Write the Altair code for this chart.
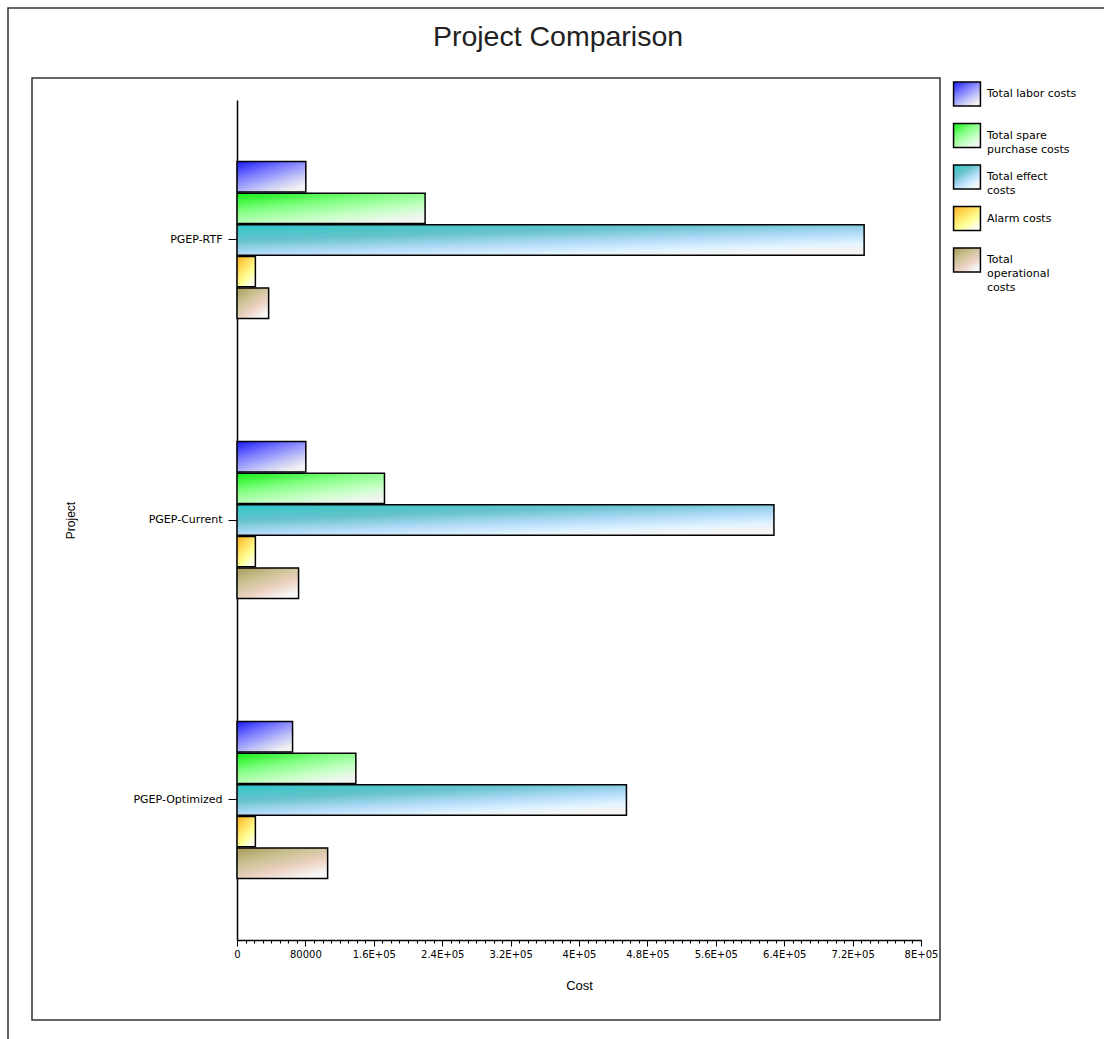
import altair as alt
import pandas as pd

# ---- chart data -------------------------------------------------------------
PROJECTS = ["PGEP-RTF", "PGEP-Current", "PGEP-Optimized"]
SERIES = [
    "Total labor costs",
    "Total spare purchase costs",
    "Total effect costs",
    "Alarm costs",
    "Total operational costs",
]
LEGEND_LABELS = [
    "Total labor costs",
    "Total spare\npurchase costs",
    "Total effect\ncosts",
    "Alarm costs",
    "Total\noperational\ncosts",
]
LABOR = [80500, 80500, 65000]
SPARE = [220000, 172500, 139000]
EFFECT = [733500, 628000, 455500]
ALARM = [21500, 21500, 21500]
OPERATIONAL = [37000, 72000, 106000]
VALUES = [LABOR, SPARE, EFFECT, ALARM, OPERATIONAL]

X_TICKS = [0, 80000, 160000, 240000, 320000, 400000, 480000, 560000, 640000, 720000, 800000]
MINOR_TICKS = [v * 10000 for v in range(81)]

# gradient colour stops for each series (saturated -> pale)
STOPS = [
    [(0, "#1c1cff"), (0.4, "#7c7cff"), (0.75, "#c4c6f6"), (1, "#f2f2f2")],
    [(0, "#10f010"), (0.4, "#80ff80"), (0.75, "#c8ffc8"), (1, "#f2f6f2")],
    [(0, "#2ec8c8"), (0.35, "#66c2cc"), (0.65, "#b4dcfa"), (0.88, "#e2f4ff"), (1, "#f4f4f4")],
    [(0, "#ffb020"), (0.4, "#ffe060"), (0.7, "#ffff98"), (1, "#fffff2")],
    [(0, "#a89858"), (0.35, "#c8c090"), (0.7, "#ecd2c2"), (1, "#f8f8f8")],
]

FONT = "Liberation Sans"
SMALL_FONT = "DejaVu Sans"


def gradient(stops):
    return alt.LinearGradient(
        gradient="linear", x1=0, y1=0, x2=0.7, y2=1,
        stops=[alt.GradientStop(offset=o, color=c) for o, c in stops],
    )


rows = []
for s, vals in zip(SERIES, VALUES):
    for p, v in zip(PROJECTS, vals):
        rows.append({"Project": p, "Series": s, "Cost": v})
df = pd.DataFrame(rows)

legend_df = pd.DataFrame({"Series": SERIES, "Label": LEGEND_LABELS})

# ---- scales and axes --------------------------------------------------------
x_scale = alt.Scale(domain=[0, 800000], range=[205, 889], nice=False, zero=True)

label_expr = (
    "datum.value == 0 ? '0' : datum.value < 100000 ? format(datum.value, 'd') "
    ": format(datum.value / 100000, '.3~g') + 'E+05'"
)

x_axis = alt.Axis(
    orient="bottom", offset=-80, values=X_TICKS, labelExpr=label_expr,
    title="Cost", titleY=45, titleBaseline="middle", titleFontSize=13,
    titleFontWeight="normal", tickSize=6, tickWidth=1, domainWidth=1.5,
    labelFont=SMALL_FONT, labelFontSize=10, labelPadding=3, labelFlush=False,
    labelOverlap=False, grid=False,
)
minor_axis = alt.Axis(
    orient="bottom", offset=-80, values=MINOR_TICKS, labels=False,
    domain=False, tickSize=3, tickWidth=1, title=None, grid=False,
)
y_axis = alt.Axis(
    orient="left", offset=-205, title="Project", titleX=-160,
    titleFontSize=12, titleFontWeight="normal", tickSize=9, tickWidth=1,
    domainWidth=1.5, labelFont=SMALL_FONT, labelFontSize=11, labelPadding=6,
    grid=False,
)
y_enc = alt.Y(
    "Project:N", sort=PROJECTS, axis=y_axis,
    scale=alt.Scale(domain=PROJECTS, range=[22, 862], paddingInner=0.44, paddingOuter=0.22),
)
yoff_enc = alt.YOffset(
    "Series:N", sort=SERIES, scale=alt.Scale(domain=SERIES, paddingInner=0.04)
)

# ---- bars: one layer per series so each gets its own gradient ---------------
bar_layers = []
for s, stops in zip(SERIES, STOPS):
    bar_layers.append(
        alt.Chart(df[df["Series"] == s])
        .mark_bar(fill=gradient(stops), stroke="black", strokeWidth=1.5)
        .encode(x=alt.X("Cost:Q", scale=x_scale, axis=x_axis), y=y_enc, yOffset=yoff_enc)
    )
bars = alt.layer(*bar_layers)

minor = (
    alt.Chart(df)
    .mark_point(opacity=0)
    .encode(x=alt.X("Cost:Q", scale=x_scale, axis=minor_axis))
)

# ---- legend ----------------------------------------------------------------
legend_y = alt.Y(
    "Series:N", sort=SERIES, axis=None,
    scale=alt.Scale(type="point", domain=SERIES, range=[16, 182], padding=0),
)
swatches = []
for s, stops in zip(SERIES, STOPS):
    swatches.append(
        alt.Chart(legend_df[legend_df["Series"] == s])
        .mark_point(
            shape="M-1.12,-1H1.12V1H-1.12Z", size=576, filled=True, opacity=1,
            fill=gradient(stops), stroke="black", strokeWidth=1.5,
        )
        .encode(x=alt.value(935), y=legend_y)
    )
legend_text = (
    alt.Chart(legend_df)
    .mark_text(align="left", baseline="middle", lineBreak="\n", lineHeight=14,
               fontSize=11, font=SMALL_FONT, color="black")
    .encode(x=alt.value(955), y=legend_y, text="Label:N")
)
legend = alt.layer(*swatches, legend_text)

# ---- outer frame -----------------------------------------------------------
frame = (
    alt.Chart(pd.DataFrame({"k": [0]}))
    .mark_rect(fill="transparent", stroke="#333", strokeWidth=1.5)
    .encode(x=alt.value(-24), x2=alt.value(1400), y=alt.value(-70), y2=alt.value(1400))
)

chart = (
    alt.layer(frame, bars, minor, legend)
    .resolve_scale(y="independent")
    .resolve_axis(x="independent")
    .properties(
        width=908,
        height=942,
        padding={"left": 32, "top": 78, "right": 164, "bottom": 19},
        autosize=alt.AutoSizeParams(type="none"),
        title=alt.TitleParams(
            "Project Comparison", anchor="middle", frame="group", dx=72,
            fontSize=28.5, font=FONT, fontWeight="normal", color="#222",
            baseline="alphabetic", offset=-67,
        ),
        background="white",
    )
    .configure_view(stroke="#333", strokeWidth=1.5)
    .configure_axis(
        labelFont=SMALL_FONT, titleFont=FONT, labelColor="black", titleColor="black",
        domainColor="black", tickColor="black",
    )
)

chart.save("out.html", embed_options={"renderer": "svg", "actions": False})
